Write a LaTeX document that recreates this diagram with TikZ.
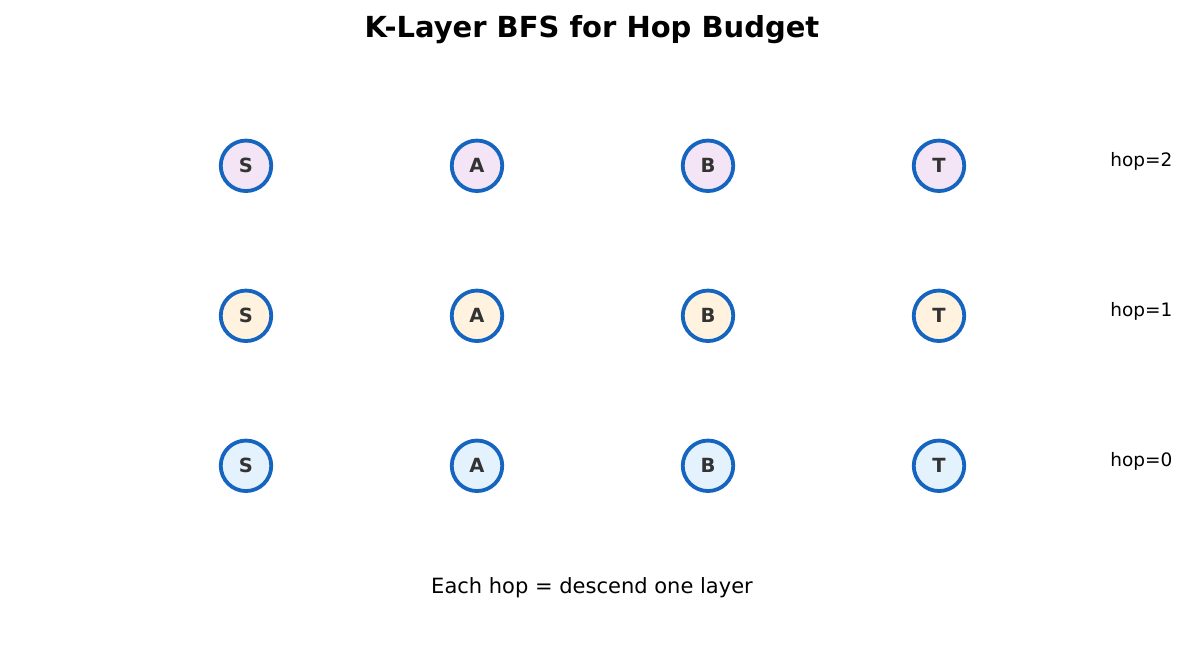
\documentclass[tikz,border=0pt]{standalone}
\usepackage{fontspec}
\setmainfont{DejaVu Sans}
\definecolor{edgeblue}{HTML}{1565C0}
\definecolor{fillpurple}{HTML}{F3E5F5}
\definecolor{fillorange}{HTML}{FFF3E0}
\definecolor{fillblue}{HTML}{E3F2FD}
\definecolor{txt}{HTML}{333333}
\begin{document}
\begin{tikzpicture}[x=1bp,y=-1bp,
  vnode/.style={circle,draw=edgeblue,line width=3.8bp,minimum size=50.5bp,inner sep=0pt,
    font=\fontsize{19.5bp}{23bp}\selectfont\bfseries,text=txt},
  hoplabel/.style={anchor=east,font=\fontsize{18.5bp}{22bp}\selectfont},
]
\useasboundingbox (0,0) rectangle (1190,654);
\node[font=\fontsize{29bp}{34bp}\selectfont\bfseries] (title) at (592,29.5) {K-Layer BFS for Hop Budget};
\foreach \row/\y/\f in {2/165/fillpurple,1/315/fillorange,0/465/fillblue}{
  \node[vnode,fill=\f] (S\row) at (246,\y+0.8) {S};
  \node[vnode,fill=\f] (A\row) at (477,\y+0.8) {A};
  \node[vnode,fill=\f] (B\row) at (708,\y+0.8) {B};
  \node[vnode,fill=\f] (T\row) at (939,\y+0.8) {T};
  \node[hoplabel] (h\row) at (1176,\y-3.5) {hop=\row};
}
\node[font=\fontsize{21bp}{25bp}\selectfont] (foot) at (592,588) {Each hop = descend one layer};
\end{tikzpicture}
\end{document}
